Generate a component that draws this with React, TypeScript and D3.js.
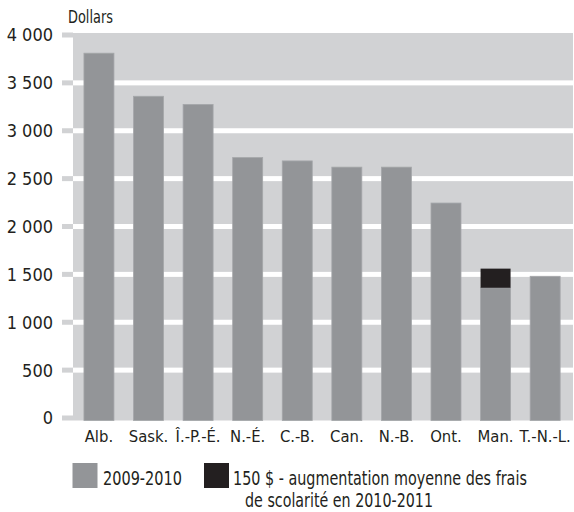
import React, { useEffect, useRef } from 'react';
import * as d3 from 'd3';

// --- data ---
const provinces = ['Alb.', 'Sask.', 'Î.-P.-É.', 'N.-É.', 'C.-B.', 'Can.', 'N.-B.', 'Ont.', 'Man.', 'T.-N.-L.'];
const fees2009 = [3810, 3360, 3275, 2720, 2685, 2620, 2620, 2245, 1360, 1480];
const increase2010 = [0, 0, 0, 0, 0, 0, 0, 0, 200, 0];
const yTicks = [0, 500, 1000, 1500, 2000, 2500, 3000, 3500, 4000];
const yTickLabels = ['0', '500', '1 000', '1 500', '2 000', '2 500', '3 000', '3 500', '4 000'];
const legendItems = ['2009-2010', '150 $ - augmentation moyenne des frais', 'de scolarité en 2010-2011'];

const FONT = "'Liberation Sans Narrow', 'DejaVu Sans Condensed', sans-serif";
const BG = '#d1d2d4';
const BAR = '#939598';
const BLACK = '#231f20';

// squeeze a text horizontally so it takes the width of the original narrow face
const narrowText = (parent: any, label: string, x: number, y: number, target: number, size: number) => {
  const g = parent.append('g');
  const t = g.append('text')
    .style('font-family', FONT)
    .style('font-size', `${size}px`)
    .style('fill', '#231f20')
    .text(label);
  const len = (t.node() as SVGTextElement).getComputedTextLength() || target;
  g.attr('transform', `translate(${x},${y}) scale(${Math.min(1, target / len)},1)`);
};

const App = () => {
  const svgRef = useRef<SVGSVGElement>(null);

  useEffect(() => {
    const width = 574;
    const height = 512;
    const svg = d3.select(svgRef.current);
    svg.selectAll('*').remove();
    svg.attr('width', width).attr('height', height);

    // 1. scales
    const x = d3.scaleBand<string>()
      .domain(provinces)
      .range([73, 573])
      .paddingInner(0.395)
      .paddingOuter(0.24)
      .align(0.46);

    const y = d3.scaleLinear().domain([0, 4000]).range([418, 35]);
    const plotLeft = 73;
    const plotRight = 573;
    const bottom = y(0) + 2.5;

    // 2. grey background panel
    svg.append('rect')
      .attr('x', plotLeft)
      .attr('y', y(4000) - 2)
      .attr('width', plotRight - plotLeft)
      .attr('height', bottom - (y(4000) - 2))
      .attr('fill', BG);

    // 3. white gridlines (not at 0 or at the top) + small outer ticks
    svg.append('g')
      .selectAll('rect')
      .data(yTicks.filter(t => t > 0 && t < 4000))
      .join('rect')
      .attr('x', plotLeft)
      .attr('y', d => y(d) - 2.5)
      .attr('width', plotRight - plotLeft)
      .attr('height', 5)
      .attr('fill', '#fff');

    svg.append('g')
      .selectAll('rect')
      .data(yTicks)
      .join('rect')
      .attr('x', 62)
      .attr('y', d => y(d) - 2.5)
      .attr('width', plotLeft - 62)
      .attr('height', 5)
      .attr('fill', BG);

    svg.append('g')
      .selectAll('text')
      .data(yTicks)
      .join('text')
      .attr('x', 53)
      .attr('y', d => y(d))
      .attr('dy', '0.36em')
      .attr('text-anchor', 'end')
      .style('font-family', FONT)
      .style('font-size', '18px')
      .style('fill', '#231f20')
      .text((d, i) => yTickLabels[i]);

    narrowText(svg, 'Dollars', 68, 23, 45, 17);

    // 4. bars: 2009-2010 then the increase stacked on top
    svg.append('g')
      .selectAll('rect')
      .data(provinces)
      .join('rect')
      .attr('x', d => x(d)!)
      .attr('y', (d, i) => y(fees2009[i]))
      .attr('width', x.bandwidth())
      .attr('height', (d, i) => bottom - y(fees2009[i]))
      .attr('fill', BAR)
      .attr('stroke', '#a5a7aa')
      .attr('stroke-width', 0.8);

    svg.append('g')
      .selectAll('rect')
      .data(provinces.filter((d, i) => increase2010[i] > 0))
      .join('rect')
      .attr('x', d => x(d)!)
      .attr('y', d => {
        const i = provinces.indexOf(d);
        return y(fees2009[i] + increase2010[i]);
      })
      .attr('width', x.bandwidth())
      .attr('height', d => {
        const i = provinces.indexOf(d);
        return y(fees2009[i]) - y(fees2009[i] + increase2010[i]);
      })
      .attr('fill', BLACK);

    // 5. category labels
    svg.append('g')
      .selectAll('text')
      .data(provinces)
      .join('text')
      .attr('x', d => x(d)! + x.bandwidth() / 2)
      .attr('y', 442)
      .attr('text-anchor', 'middle')
      .style('font-family', FONT)
      .style('font-size', '16.5px')
      .style('fill', '#231f20')
      .text(d => d);

    // 6. legend
    svg.append('rect').attr('x', 72.5).attr('y', 463).attr('width', 25).attr('height', 25).attr('fill', BAR);
    narrowText(svg, legendItems[0], 103, 485, 79, 19);
    svg.append('rect').attr('x', 204).attr('y', 463).attr('width', 25).attr('height', 25).attr('fill', BLACK);
    narrowText(svg, legendItems[1], 233, 485, 294, 19);
    narrowText(svg, legendItems[2], 245, 507, 188, 19);
  }, []);

  return (
    <div style={{ position: 'absolute', left: 0, top: 0, background: '#fff' }}>
      <svg ref={svgRef} style={{ display: 'block' }}></svg>
    </div>
  );
};

export default App;
